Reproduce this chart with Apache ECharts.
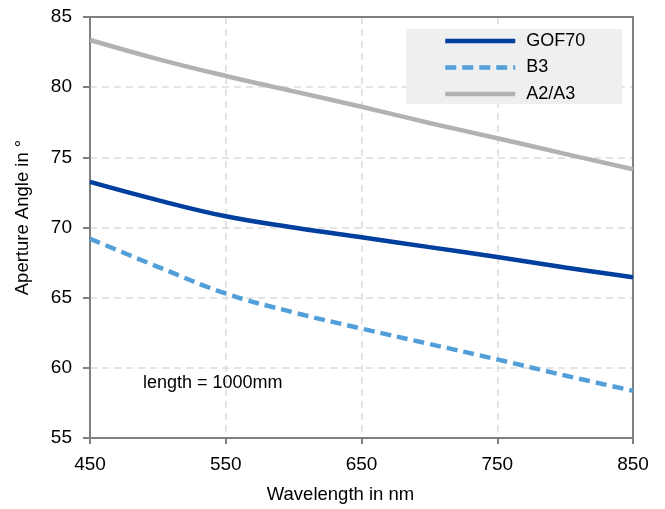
<!DOCTYPE html>
<html>
<head>
<meta charset="utf-8">
<script src="https://cdn.jsdelivr.net/npm/echarts@6/dist/echarts.min.js"></script>
<style>
  html, body { margin: 0; padding: 0; background: #fff; }
  #chart { width: 665px; height: 509px; }
</style>
</head>
<body>
<div id="chart"></div>
<script>
const wavelengths = [450, 500, 550, 600, 650, 700, 750, 800, 850];
const gof70 = [73.25, 71.95, 70.8, 70.0, 69.3, 68.6, 67.9, 67.15, 66.45];
const b3 = [69.2, 67.2, 65.3, 63.95, 62.8, 61.7, 60.6, 59.45, 58.37];
const a2a3 = [83.36, 82.0, 80.8, 79.7, 78.6, 77.45, 76.36, 75.25, 74.15];
const annotation = "length = 1000mm";

const fontFamily = "Liberation Sans, Arial, sans-serif";
const axisColor = "#808080";
const gridDash = { color: "#dcdcdc", width: 1.5, type: [7, 5] };

function pairs(values) {
  return wavelengths.map((w, i) => [w, values[i]]);
}

const chart = echarts.init(document.getElementById("chart"));

const option = {
  animation: false,
  textStyle: { fontFamily: fontFamily, color: "#000" },
  grid: {
    left: 90,
    right: 32,
    top: 17,
    bottom: 71,
  },
  legend: {
    orient: "vertical",
    left: 406,
    top: 29,
    backgroundColor: "#eeefef",
    padding: [2, 37, 0, 37],
    itemWidth: 70,
    itemHeight: 14,
    itemGap: 6.5,
    itemStyle: { opacity: 0 },
    lineStyle: { width: 4.5 },
    textStyle: { fontSize: 18, lineHeight: 20, color: "#000", padding: [0, 0, 0, 6] },
    data: ["GOF70", "B3", "A2/A3"],
  },
  xAxis: [
    {
      type: "value",
      min: 450,
      max: 850,
      interval: 100,
      name: "Wavelength in nm",
      nameLocation: "middle",
      nameGap: 47,
      nameTextStyle: { fontSize: 18.5, color: "#000", padding: [0, 42, 0, 0] },
      axisLine: { lineStyle: { color: axisColor, width: 2 } },
      axisTick: { show: true, length: 6, lineStyle: { color: axisColor, width: 2 } },
      axisLabel: { fontSize: 19, color: "#000", margin: 17 },
      splitLine: { show: true, lineStyle: gridDash },
    },
    {
      type: "value",
      position: "top",
      min: 450,
      max: 850,
      axisLine: { show: true, lineStyle: { color: axisColor, width: 2 } },
      axisTick: { show: false },
      axisLabel: { show: false },
      splitLine: { show: false },
    },
  ],
  yAxis: [
    {
      type: "value",
      min: 55,
      max: 85,
      interval: 5,
      name: "Aperture Angle in °",
      nameLocation: "middle",
      nameGap: 58,
      nameTextStyle: { fontSize: 18.5, color: "#000", padding: [0, 0, 0, 20] },
      axisLine: { lineStyle: { color: axisColor, width: 2 } },
      axisTick: { show: true, length: 7, lineStyle: { color: axisColor, width: 2 } },
      axisLabel: { fontSize: 19, color: "#000", margin: 18 },
      splitLine: { show: true, lineStyle: gridDash },
    },
    {
      type: "value",
      position: "right",
      min: 55,
      max: 85,
      axisLine: { show: true, lineStyle: { color: axisColor, width: 2 } },
      axisTick: { show: false },
      axisLabel: { show: false },
      splitLine: { show: false },
    },
  ],
  graphic: [
    {
      type: "text",
      left: 143,
      top: 374,
      style: { text: annotation, fontSize: 18, fontFamily: fontFamily, fill: "#000" },
    },
  ],
  series: [
    {
      name: "GOF70",
      type: "line",
      data: pairs(gof70),
      smooth: 0.4,
      symbol: "none",
      lineStyle: { color: "#003f9e", width: 4.5 },
      itemStyle: { color: "#003f9e" },
    },
    {
      name: "B3",
      type: "line",
      data: pairs(b3),
      smooth: 0.4,
      symbol: "none",
      lineStyle: { color: "#529fd9", width: 4.5, type: [11, 6] },
      itemStyle: { color: "#529fd9" },
    },
    {
      name: "A2/A3",
      type: "line",
      data: pairs(a2a3),
      smooth: 0.4,
      symbol: "none",
      lineStyle: { color: "#b2b2b2", width: 4.5 },
      itemStyle: { color: "#b2b2b2" },
    },
  ],
};

chart.setOption(option);
</script>
</body>
</html>
